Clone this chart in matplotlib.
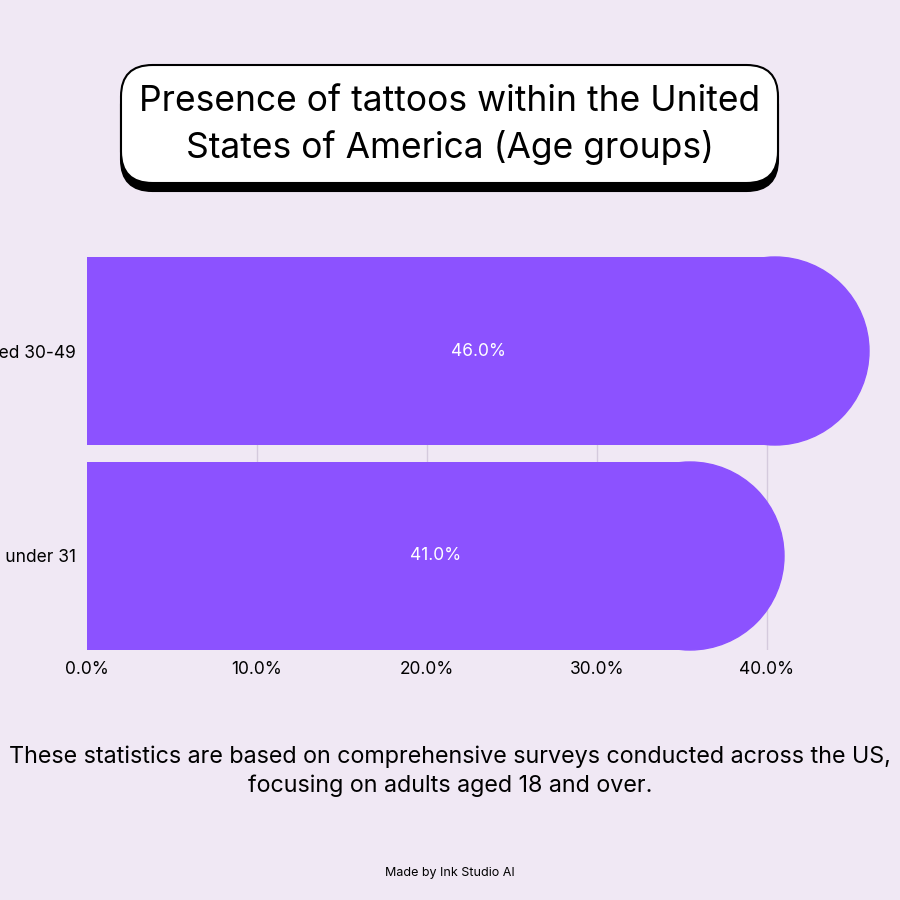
import matplotlib.pyplot as plt
from matplotlib.patches import Ellipse, FancyBboxPatch

plt.rcParams['font.family'] = ['Inter', 'DejaVu Sans']

labels = ['Aged under 31', 'Aged 30-49']
values = [41.0, 46.0]
ticks = [0, 10, 20, 30, 40]

bg = '#f0e8f4'
purple = '#8c52ff'

fig = plt.figure(figsize=(9, 9), dpi=100, facecolor=bg)
ax = fig.add_axes([87 / 900, 1 - 650 / 900, (869 - 87) / 900, (650 - 257) / 900])
ax.set_facecolor(bg)
h = 188 / 205
ax.set_xlim(0, 46)
ax.set_ylim(-h / 2, 1 + h / 2)

r = 94 / 17.0  # radius of the round end in data units
for i, v in enumerate(values):
    ax.barh(i, v - r, height=h, color=purple, zorder=2)
    ax.add_patch(Ellipse((v - r, i), 2 * r, h, color=purple, zorder=2, clip_on=False))
    ax.text(v / 2, i, f'{v:.1f}%', color='white', ha='center', va='center',
            fontsize=12.5, zorder=3)

for t in ticks[1:]:
    ax.axvline(t, color='#d5cadd', lw=1, zorder=1)

ax.set_yticks(range(len(labels)))
ax.set_yticklabels(labels, fontsize=12.5)
ax.set_xticks(ticks)
ax.set_xticklabels([f'{t:.1f}%' for t in ticks], fontsize=12.5)
ax.tick_params(length=0, pad=8)
for s in ax.spines.values():
    s.set_visible(False)

# title box with shadow
x0, y0, w, hh = 121 / 900, 1 - 183 / 900, (778 - 121) / 900, (183 - 65) / 900
fig.patches.append(FancyBboxPatch((x0, y0 - 8 / 900), w, hh, boxstyle='round,pad=0,rounding_size=0.035',
                                  transform=fig.transFigure, fc='black', ec='black', lw=1.5))
fig.patches.append(FancyBboxPatch((x0, y0), w, hh, boxstyle='round,pad=0,rounding_size=0.035',
                                  transform=fig.transFigure, fc='white', ec='black', lw=1.5))
fig.text(0.5, 1 - 125 / 900, 'Presence of tattoos within the United\nStates of America (Age groups)',
         ha='center', va='center', fontsize=25.5, linespacing=1.4)

fig.text(0.5, 1 - 771 / 900, 'These statistics are based on comprehensive surveys conducted across the US,\n'
         'focusing on adults aged 18 and over.', ha='center', va='center', fontsize=16.8, linespacing=1.4)
fig.text(0.5, 1 - 873 / 900, 'Made by Ink Studio AI', ha='center', va='center', fontsize=9)

fig.savefig('out.png', dpi=100, facecolor=bg)
